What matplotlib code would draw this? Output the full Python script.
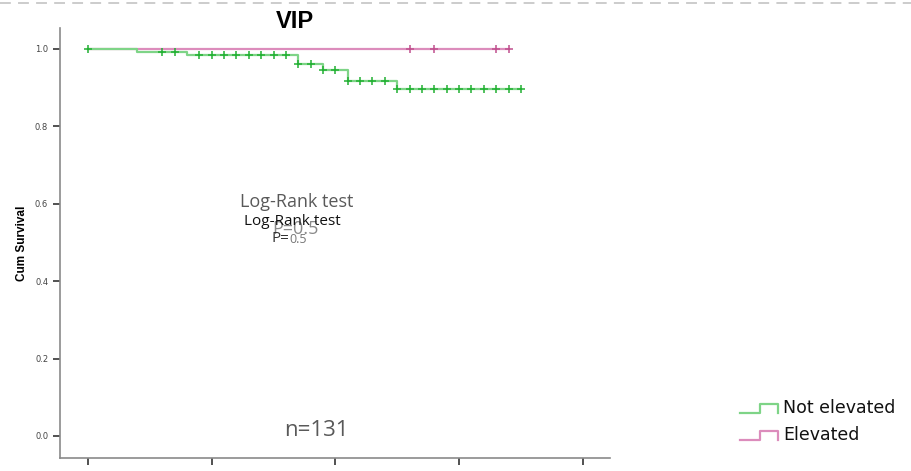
import matplotlib.pyplot as plt
import numpy as np
from matplotlib.lines import Line2D

# Kaplan-Meier curve, group "Not elevated"
green_times = [0, 4, 8, 17, 19, 21, 25, 35]
green_surv = [1.0, 0.992, 0.984, 0.960, 0.946, 0.917, 0.897, 0.897]
green_censor_t = [0, 6, 7, 9, 10, 11, 12, 13, 14, 15, 16, 17, 18, 19, 20, 21, 22, 23, 24,
                  25, 26, 27, 28, 29, 30, 31, 32, 33, 34, 35]

# group "Elevated"
pink_times = [0, 34]
pink_surv = [1.0, 1.0]
pink_censor_t = [26, 28, 33, 34]

x_ticks = [0, 10, 20, 30, 40]
y_ticks = [0.0, 0.2, 0.4, 0.6, 0.8, 1.0]

GREEN_LINE = "#7ed487"
GREEN_MARK = "#22b033"
PINK_LINE = "#dc8cbc"
PINK_MARK = "#c0508e"


def surv_at(times, surv, t):
    idx = np.searchsorted(times, t, side="right") - 1
    return surv[max(idx, 0)]


W, H = 912, 471
fig = plt.figure(figsize=(W / 100, H / 100), dpi=100)
ax = fig.add_axes([60 / W, (H - 458) / H, 550 / W, 430 / H])

ax.step(green_times, green_surv, where="post", color=GREEN_LINE, lw=1.6, zorder=2)
ax.step(pink_times, pink_surv, where="post", color=PINK_LINE, lw=1.6, zorder=1)
ax.scatter(green_censor_t, [surv_at(green_times, green_surv, t) for t in green_censor_t],
           marker="+", s=40, color=GREEN_MARK, linewidths=1.1, zorder=3)
ax.scatter(pink_censor_t, [surv_at(pink_times, pink_surv, t) for t in pink_censor_t],
           marker="+", s=40, color=PINK_MARK, linewidths=1.1, zorder=3)

ax.set_xlim(-2.26, 42.2)
ax.set_ylim(-0.057, 1.054)
ax.set_xticks(x_ticks)
ax.set_yticks(y_ticks)
ax.set_yticklabels([f"{v:.1f}" for v in y_ticks])
ax.tick_params(axis="both", direction="out", length=5, width=1.2, color="#333333",
               labelsize=6, labelcolor="#444444")
ax.tick_params(axis="x", pad=6)
for side in ["top", "right"]:
    ax.spines[side].set_visible(False)
for side in ["left", "bottom"]:
    ax.spines[side].set_color("#8a8a8a")
    ax.spines[side].set_linewidth(1.2)

ax.set_ylabel("Cum Survival", fontsize=8.5, fontweight="bold", family="Liberation Sans",
              labelpad=5)
fig.text(295 / W, 1 - 21 / H, "VIP", fontsize=17, fontweight="bold", family="Liberation Sans",
         ha="center", va="center")

txt = dict(family="Open Sans", ha="center", va="center")
ax.text(16.9, 0.605, "Log-Rank test", fontsize=13, color="#595959", **txt)
ax.text(16.8, 0.535, "P=0.5", fontsize=13, color="#8a8a8a", **txt)
ax.text(16.55, 0.553, "Log-Rank test", fontsize=11, color="#111111", **txt)
ax.text(16.3, 0.510, "P=", fontsize=11, color="#333333", ha="right", va="center",
        family="Open Sans")
ax.text(16.3, 0.508, "0.5", fontsize=9, color="#777777", ha="left", va="center",
        family="Open Sans")
ax.text(18.5, 0.015, "n=131", fontsize=16, color="#595959", **txt)

# dashed border line at the very top of the page
fig.add_artist(Line2D([0, 1], [1 - 3 / H, 1 - 3 / H], transform=fig.transFigure,
                      color="#c8c8c8", lw=1.3, dashes=(6, 4)))

# legend drawn by hand in SPSS style
legend_items = [("Not elevated", GREEN_LINE, 408), ("Elevated", PINK_LINE, 435)]
for label, col, yc in legend_items:
    xs = np.array([740, 760, 760, 778, 778])
    ys = np.array([yc + 5, yc + 5, yc - 4, yc - 4, yc + 5])
    fig.add_artist(Line2D(xs / W, 1 - ys / H, transform=fig.transFigure, color=col, lw=1.6))
    fig.text(783 / W, 1 - yc / H, label, fontsize=12.5, family="DejaVu Sans", color="#111111",
             va="center", ha="left")

fig.savefig("out.png", dpi=100)
